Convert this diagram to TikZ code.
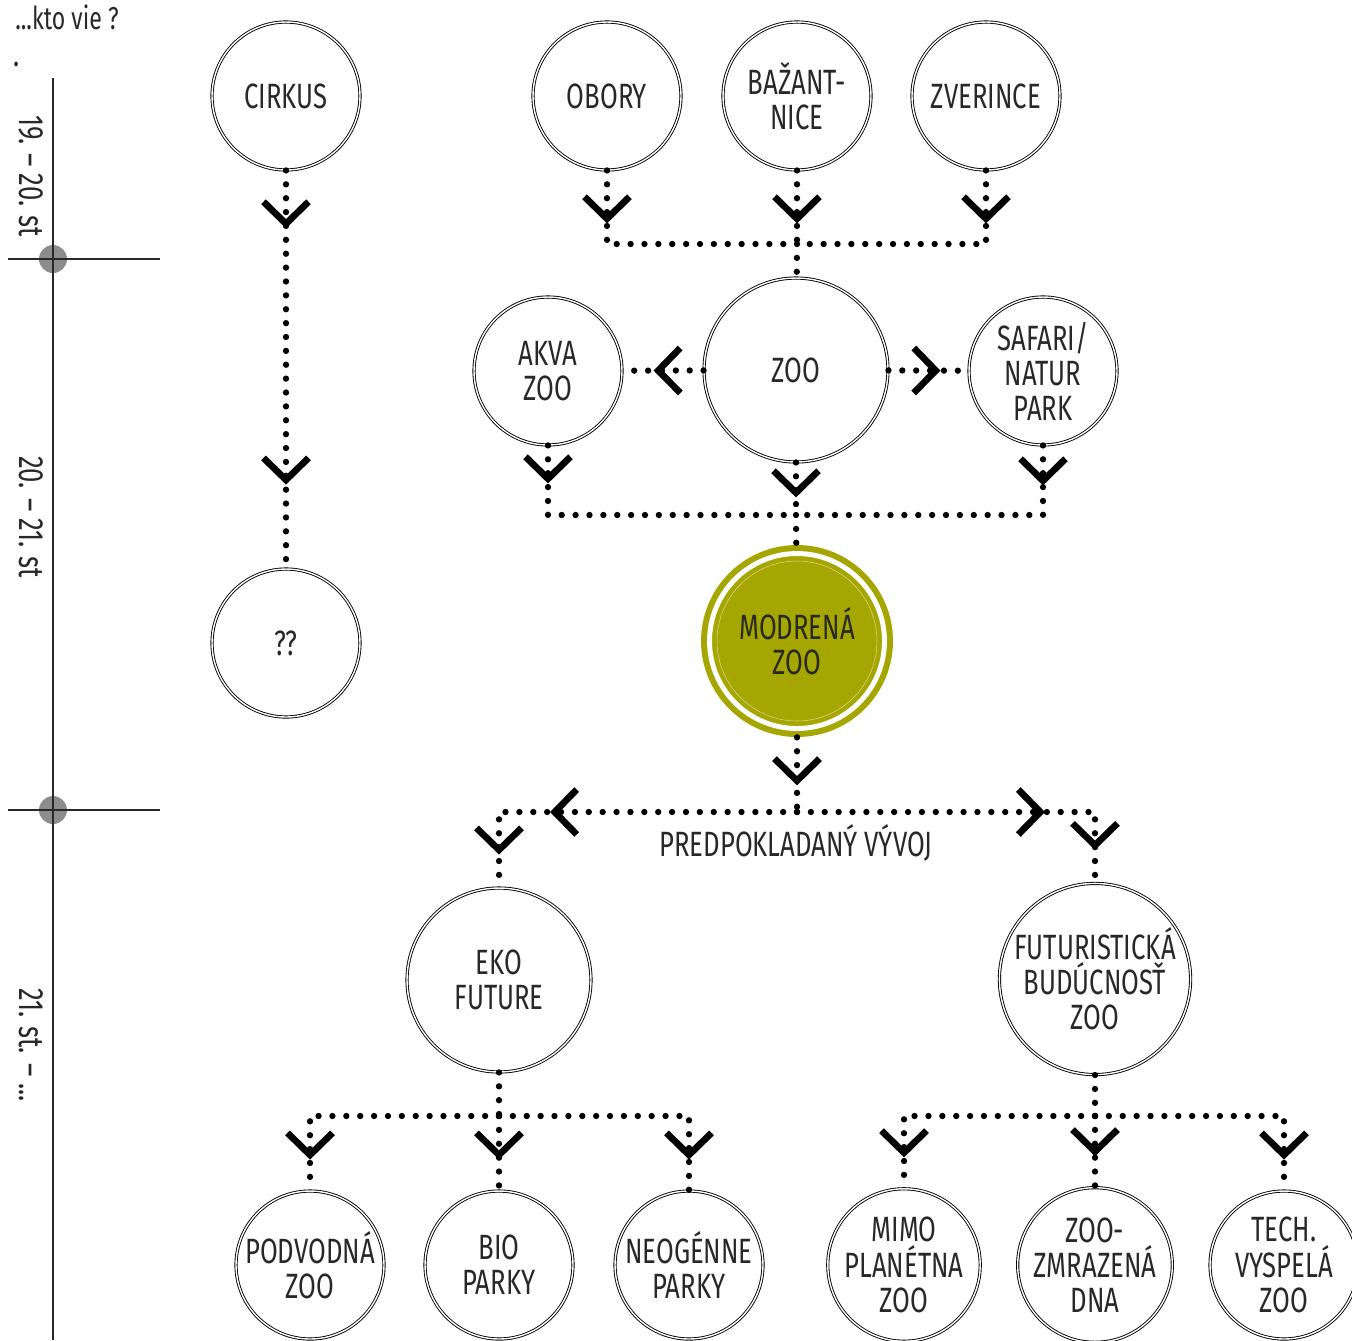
\documentclass[tikz,border=0pt]{standalone}
\usepackage{fontspec}
\setmainfont{Fira Sans}[FakeStretch=0.73]
\usetikzlibrary{arrows.meta,decorations.markings}
\definecolor{zoogreen}{RGB}{166,166,0}
\definecolor{ink}{RGB}{40,40,40}
\tikzset{Chev/.tip={Straight Barb[length=4.4mm, width=9mm, line width=3.8pt]}}

\begin{document}
\begin{tikzpicture}[x=0.02cm, y=-0.02cm,
  every node/.style={font=\fontsize{20}{20}\selectfont, text=ink},
  bub/.style={circle, draw=black, double=white, double distance=0.8pt, line width=0.5pt,
              minimum size=2.96cm, inner sep=0pt, align=center},
  bigbub/.style={bub, minimum size=3.68cm},
  dotline/.style={line width=3.6pt, line cap=round, dash pattern=on 0pt off 7.9pt},
  chev/.style={postaction={decorate, decoration={markings, mark=at position #1 with {\arrow{Chev}}}}},
  era/.style={rotate=-90}
]
  \useasboundingbox (0,0) rectangle (1352,1340);
  % timeline
  \fill[black!45] (53,259) circle[radius=0.28cm];
  \fill[black!45] (53,810) circle[radius=0.28cm];
  \draw[ink, line width=1.1pt] (53,78) -- (53,1340);
  \draw[ink, line width=0.9pt] (8,259) -- (160,259);
  \draw[ink, line width=0.9pt] (8,810) -- (160,810);
  \node[font=\fontsize{18}{18}\selectfont] (kto) at (67,17) {...kto vie ?};
  \node (stray) at (17,64) {.};
  \node[era] (t1) at (31,176) {19. – 20. st};
  \node[era] (t2) at (31,517) {20. – 21. st};
  \node[era] (t3) at (31,1045) {21. st. – ...};

  % 19.-20. st
  \node[bub] (cirkus) at (286,96) {CIRKUS};
  \node[bub] (qq) at (286,643) {??};
  \node[bub] (obory) at (607,96) {OBORY};
  \node[bub] (bazant) at (797,96) {BAŽANT-\\NICE};
  \node[bub] (zver) at (986,96) {ZVERINCE};
  \coordinate (bar1) at (797,244);

  % 20.-21. st
  \node[bigbub] (zoo) at (796,370) {ZOO};
  \node[bub] (akva) at (548,371) {AKVA\\ZOO};
  \node[bub] (safari) at (1043,371) {SAFARI/\\NATUR\\PARK};
  \coordinate (bar2) at (796,515);
  \node[circle, fill=zoogreen, minimum size=3.84cm, inner sep=0pt, align=center] (modern) at (797,641) {MODRENÁ\\ZOO};
  \draw[white, line width=2.8pt] (modern.center) circle[radius=1.75cm];
  \draw[white!55!zoogreen, line width=0.3pt] (modern.center) circle[radius=1.6cm];
  \coordinate (bar3) at (797,812);
  \node (vyvoj) at (796,843) {PREDPOKLADANÝ VÝVOJ};

  % 21. st
  \node[bigbub] (eko) at (499,980) {EKO\\FUTURE};
  \node[bigbub] (fut) at (1095,979) {FUTURISTICKÁ\\BUDÚCNOSŤ\\ZOO};
  \coordinate (bar4) at (499,1116);
  \coordinate (bar5) at (1095,1116);
  \node[bub] (podv) at (310,1265) {PODVODNÁ\\ZOO};
  \node[bub] (bio) at (499,1265) {BIO\\PARKY};
  \node[bub] (neog) at (689,1265) {NEOGÉNNE\\PARKY};
  \node[bub] (mimo) at (904,1265) {MIMO\\PLANÉTNA\\ZOO};
  \node[bub] (zmraz) at (1095,1265) {ZOO-\\ZMRAZENÁ\\DNA};
  \node[bub] (tech) at (1284,1265) {TECH.\\VYSPELÁ\\ZOO};

  % connectors
  \draw[dotline, chev=1.16cm, chev=-1.68cm] (cirkus) -- (qq);
  \draw[dotline, chev=1.06cm] (obory) |- (bar1);
  \draw[dotline, chev=1.06cm] (bazant) -- (bar1);
  \draw[dotline, chev=1.06cm] (zver) |- (bar1);
  \draw[dotline] (bar1) -- (zoo);
  \draw[dotline, chev=1cm] (zoo) -- (akva);
  \draw[dotline, chev=1.04cm] (zoo) -- (safari);
  \draw[dotline, chev=0.76cm] (akva) |- (bar2);
  \draw[dotline, chev=0.7cm] (zoo) -- (bar2);
  \draw[dotline, chev=0.8cm] (safari) |- (bar2);
  \draw[dotline] (bar2) -- (modern);
  \draw[dotline, chev=0.96cm] (modern) -- (bar3);
  \draw[dotline, chev=4.94cm, chev=-0.66cm] (bar3) -| (eko);
  \draw[dotline, chev=4.96cm, chev=-0.66cm] (bar3) -| (fut);
  \draw[dotline] (eko) -- (bar4);
  \draw[dotline, chev=-0.62cm] (bar4) -| (podv);
  \draw[dotline, chev=-0.62cm] (bar4) -- (bio);
  \draw[dotline, chev=-0.62cm] (bar4) -| (neog);
  \draw[dotline] (fut) -- (bar5);
  \draw[dotline, chev=-0.62cm] (bar5) -| (mimo);
  \draw[dotline, chev=-0.62cm] (bar5) -- (zmraz);
  \draw[dotline, chev=-0.62cm] (bar5) -| (tech);
\end{tikzpicture}
\end{document}
